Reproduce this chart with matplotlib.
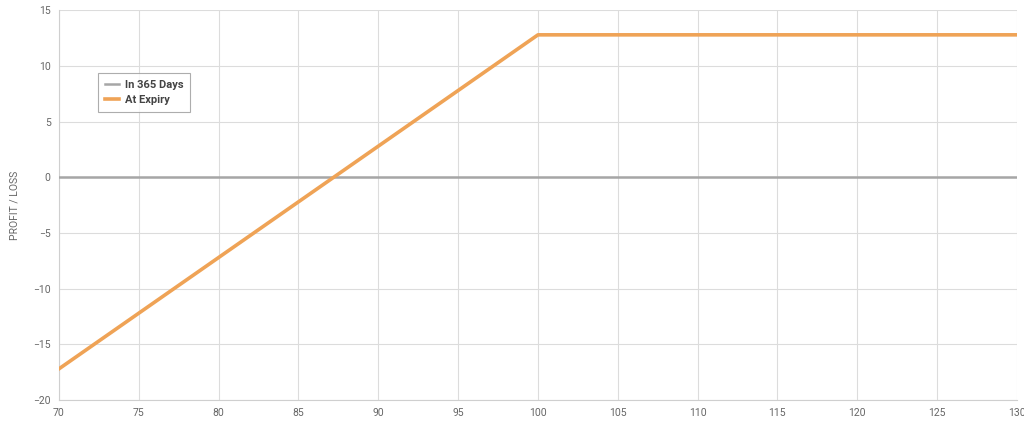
import numpy as np
import matplotlib.pyplot as plt

# price points and P/L values
price = [70, 100, 130]
pl_365 = [0, 0, 0]
pl_expiry = [-17.2, 12.8, 12.8]

xticks = list(range(70, 131, 5))
yticks = list(range(-20, 16, 5))

plt.rcParams['font.family'] = ['Roboto', 'DejaVu Sans']

fig = plt.figure(figsize=(10.24, 4.24), dpi=100)
ax = fig.add_axes([0.0576, 0.0566, 0.9355, 0.919])

ax.plot(price, pl_365, color='#a6a6a6', lw=1.8, label='In 365 Days', zorder=3)
ax.plot(price, pl_expiry, color='#efa356', lw=2.6, label='At Expiry', zorder=4)

ax.set_xlim(70, 130)
ax.set_ylim(-20, 15)
ax.set_xticks(xticks)
ax.set_yticks(yticks)
ax.grid(True, color='#dcdcdc', lw=0.8)
for s in ax.spines.values():
    s.set_visible(False)
ax.spines['left'].set_visible(True)
ax.spines['left'].set_color('#cfcfcf')
ax.spines['bottom'].set_visible(True)
ax.spines['bottom'].set_color('#cfcfcf')
ax.tick_params(length=0, labelsize=7.5, labelcolor='#666666', pad=6)
ax.set_ylabel('PROFIT / LOSS', fontsize=7.5, color='#666666', labelpad=10)

leg = ax.legend(loc='upper left', bbox_to_anchor=(0.041, 0.838), borderaxespad=0,
                fontsize=8, frameon=True, fancybox=False, handlelength=1.3,
                borderpad=0.6, labelspacing=0.45, handletextpad=0.5)
leg.get_frame().set_edgecolor('#999999')
leg.get_frame().set_linewidth(0.8)
for t in leg.get_texts():
    t.set_color('#444444')
    t.set_fontweight('bold')

fig.savefig('out.png', dpi=100)
